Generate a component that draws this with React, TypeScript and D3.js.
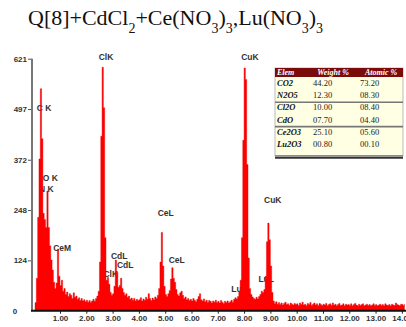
import * as d3 from "d3";
import { useEffect, useRef } from "react";

// EDS spectrum, counts per 0.05 keV channel
const CHANNEL_KEV = 0.05;
const counts0 = [0, 20, 80, 230, 374, 547, 424, 240, 225, 205, 295, 205, 160, 125, 100, 70, 55, 68, 152, 85];
const counts1 = [62, 75, 48, 55, 40, 46, 35, 42, 38, 30, 44, 33, 36, 28, 32, 25, 30, 24, 27, 22];
const counts2 = [26, 21, 25, 20, 24, 28, 23, 30, 36, 48, 120, 430, 600, 500, 180, 75, 82, 65, 45, 38];
const counts3 = [42, 60, 125, 95, 58, 62, 80, 55, 45, 38, 42, 33, 36, 28, 31, 26, 30, 24, 28, 25];
const counts4 = [27, 32, 24, 29, 26, 33, 28, 42, 30, 25, 31, 27, 34, 30, 38, 55, 120, 193, 110, 60];
const counts5 = [40, 35, 42, 50, 78, 106, 80, 70, 52, 40, 36, 44, 48, 38, 30, 34, 27, 30, 25, 28];
const counts6 = [24, 30, 26, 22, 28, 35, 42, 27, 24, 29, 22, 26, 20, 25, 23, 19, 24, 21, 26, 20];
const counts7 = [23, 19, 25, 21, 18, 23, 20, 24, 19, 22, 26, 21, 28, 32, 29, 35, 48, 75, 180, 420];
const counts8 = [598, 570, 360, 130, 55, 40, 34, 30, 28, 33, 29, 35, 40, 48, 45, 52, 85, 170, 216, 175];
const counts9 = [110, 45, 24, 18, 22, 16, 20, 15, 19, 14, 18, 21, 15, 17, 13, 19, 16, 14, 18, 15];
const counts10 = [17, 13, 19, 15, 21, 14, 16, 12, 18, 15, 20, 13, 16, 19, 14, 17, 12, 18, 15, 13];
const counts11 = [16, 14, 18, 12, 15, 17, 13, 19, 14, 16, 12, 15, 18, 13, 14, 17, 12, 16, 14, 15];
const counts12 = [13, 17, 12, 15, 18, 14, 12, 16, 13, 15, 17, 12, 14, 16, 13, 15, 12, 14, 17, 13];
const counts13 = [15, 12, 14, 16, 13, 15, 12, 17, 14, 13, 15, 12, 16, 14, 13, 19, 15, 14, 12, 16];
const counts14 = [15, 13, 16];

const Y_TICKS = [0, 124, 248, 372, 497, 621];
const X_TICKS = [1, 2, 3, 4, 5, 6, 7, 8, 9, 10, 11, 12, 13, 14];

// peak annotations: energy (keV) and count where the label baseline sits
const peakNames = ["C K", "O K", "N K", "CeM", "ClK", "ClK", "CdL", "CdL", "CeL", "CeL", "LuL", "LuL", "CuK", "CuK"];
const peakKev = [0.39, 0.63, 0.48, 1.08, 2.75, 2.93, 3.25, 3.48, 5.02, 5.44, 7.81, 8.84, 8.22, 9.09];
const peakCount = [493, 320, 292, 147, 617, 83, 127, 106, 233, 118, 46, 71, 617, 265];

// quantification table
const tableHeader = ["Elem", "Weight %", "Atomic %"];
const elems = ["CO2", "N2O5", "Cl2O", "CdO", "Ce2O3", "Lu2O3"];
const weights = ["44.20", "12.30", "10.00", "07.70", "25.10", "00.80"];
const atomics = ["73.20", "08.30", "08.40", "04.40", "05.60", "00.10"];

const W = 406;
const H = 327;

export default function App() {
  const svgRef = useRef<SVGSVGElement>(null);

  useEffect(() => {
    if (!svgRef.current) return;
    const svg = d3.select(svgRef.current);
    svg.selectAll("*").remove();

    const counts = [
      ...counts0, ...counts1, ...counts2, ...counts3, ...counts4, ...counts5, ...counts6,
      ...counts7, ...counts8, ...counts9, ...counts10, ...counts11, ...counts12, ...counts13, ...counts14,
    ];
    const x = d3.scaleLinear().domain([0, 14.1]).range([33.7, 404.5]);
    const y = d3.scaleLinear().domain([0, 621]).range([310.7, 58.7]);

    // Title with subscripts
    const title = svg.append("text")
      .attr("x", 28).attr("y", 25)
      .attr("font-family", "'Liberation Serif', 'Times New Roman', serif")
      .attr("font-size", 22).attr("fill", "#111");
    const parts: [string, boolean][] = [
      ["Q[8]+CdCl", false], ["2", true], ["+Ce(NO", false], ["3", true], [")", false], ["3", true],
      [",Lu(NO", false], ["3", true], [")", false], ["3", true],
    ];
    let prevSub = false;
    parts.forEach(([txt, sub]) => {
      const dy = sub && !prevSub ? 8 : !sub && prevSub ? -8 : 0;
      title.append("tspan")
        .attr("font-size", sub ? 14 : 22)
        .attr("dy", dy)
        .text(txt);
      prevSub = sub;
    });

    const font = "'Liberation Sans', Arial, sans-serif";

    // Peak labels (drawn under the spectrum)
    const labels = peakNames.map((n, i) => ({ n, e: peakKev[i], c: peakCount[i] }));
    svg.append("g").selectAll("text").data(labels).enter().append("text")
      .attr("x", (d) => x(d.e)).attr("y", (d) => y(d.c))
      .attr("text-anchor", "middle")
      .attr("font-family", font).attr("font-size", 8.5).attr("font-weight", "bold")
      .attr("fill", "#333")
      .text((d) => d.n);

    // Spectrum
    const area = d3.area<number>()
      .x((_, i) => x(i * CHANNEL_KEV))
      .y0(y(0))
      .y1((d) => y(d))
      .curve(d3.curveStepAfter);
    svg.append("path")
      .attr("d", area(counts) ?? "")
      .attr("fill", "#ff0000")
      .attr("stroke", "#e00000")
      .attr("stroke-width", 0.4);

    // Y axis
    const yAxis = svg.append("g").attr("transform", "translate(32,0)")
      .call(d3.axisLeft(y).tickValues(Y_TICKS.filter((t) => t > 0)).tickSize(4).tickPadding(1).tickFormat(d3.format("d")));
    yAxis.select("path.domain").remove();
    yAxis.selectAll("line").attr("stroke", "#555");
    yAxis.selectAll("text").attr("font-family", font).attr("font-size", 8)
      .attr("font-weight", "bold").attr("fill", "#333");
    svg.append("line")
      .attr("x1", 32).attr("x2", 32).attr("y1", y(621)).attr("y2", y(0))
      .attr("stroke", "#777").attr("stroke-width", 2);
    svg.append("text")
      .attr("x", 15).attr("y", y(0) + 3)
      .attr("text-anchor", "middle")
      .attr("font-family", font).attr("font-size", 8).attr("font-weight", "bold").attr("fill", "#333")
      .text(String(Y_TICKS[0]));

    // X axis
    const xAxis = svg.append("g").attr("transform", `translate(0,${y(0)})`)
      .call(d3.axisBottom(x).tickValues(X_TICKS).tickSize(3).tickPadding(2).tickFormat(d3.format(".2f")));
    xAxis.select("path.domain").remove();
    xAxis.selectAll("line").attr("stroke", "#222");
    xAxis.selectAll("text").attr("font-family", font).attr("font-size", 8)
      .attr("font-weight", "bold").attr("fill", "#333");
    svg.append("line")
      .attr("x1", 31).attr("x2", W).attr("y1", y(0)).attr("y2", y(0))
      .attr("stroke", "#111").attr("stroke-width", 2);
    svg.append("text")
      .attr("x", 207).attr("y", 334)
      .attr("text-anchor", "middle")
      .attr("font-family", font).attr("font-size", 9).attr("font-weight", "bold").attr("fill", "#333")
      .text("Energy - keV");

    // Table
    const tx = 275, ty = 68, tw = 128, headH = 9, rowH = 12.2;
    const t = svg.append("g");
    const th = headH + rowH * elems.length + 6;
    t.append("rect").attr("x", tx).attr("y", ty).attr("width", tw).attr("height", th)
      .attr("fill", "#ffffe3").attr("stroke", "#aaa").attr("stroke-width", 0.8);
    t.append("rect").attr("x", tx).attr("y", ty).attr("width", tw).attr("height", headH)
      .attr("fill", "#7b0b0b");
    const serif = "'Liberation Serif', 'Times New Roman', serif";
    const headX = [tx + 2, tx + 58, tx + 106];
    tableHeader.forEach((h, i) => {
      t.append("text")
        .attr("x", headX[i]).attr("y", ty + 7)
        .attr("text-anchor", i === 0 ? "start" : "middle")
        .attr("font-family", serif).attr("font-size", 8).attr("font-weight", "bold")
        .attr("font-style", "italic").attr("fill", "#fff")
        .text(h);
    });
    elems.forEach((e, i) => {
      const by = ty + headH + rowH * i + 9;
      t.append("text").attr("x", tx + 2).attr("y", by)
        .attr("font-family", serif).attr("font-size", 8.5).attr("font-weight", "bold")
        .attr("font-style", "italic").attr("fill", "#111").text(e);
      t.append("text").attr("x", tx + 38).attr("y", by)
        .attr("font-family", serif).attr("font-size", 8.5).attr("fill", "#222").text(weights[i]);
      t.append("text").attr("x", tx + 85).attr("y", by)
        .attr("font-family", serif).attr("font-size", 8.5).attr("fill", "#222").text(atomics[i]);
    });
    [2, 4].forEach((r) => {
      t.append("line")
        .attr("x1", tx).attr("x2", tx + tw)
        .attr("y1", ty + headH + rowH * r + 0.8).attr("y2", ty + headH + rowH * r + 0.8)
        .attr("stroke", "#777").attr("stroke-width", 1.6);
    });
    t.append("line")
      .attr("x1", tx).attr("x2", tx + tw).attr("y1", ty + th - 0.5).attr("y2", ty + th - 0.5)
      .attr("stroke", "#777").attr("stroke-width", 1);
    t.append("line")
      .attr("x1", tx).attr("x2", tx + tw).attr("y1", ty + th + 1.5).attr("y2", ty + th + 1.5)
      .attr("stroke", "#333").attr("stroke-width", 2);
  }, []);

  return (
    <svg
      ref={svgRef}
      width={W}
      height={H}
      style={{ position: "fixed", left: 0, top: 0, background: "#fff" }}
    />
  );
}
